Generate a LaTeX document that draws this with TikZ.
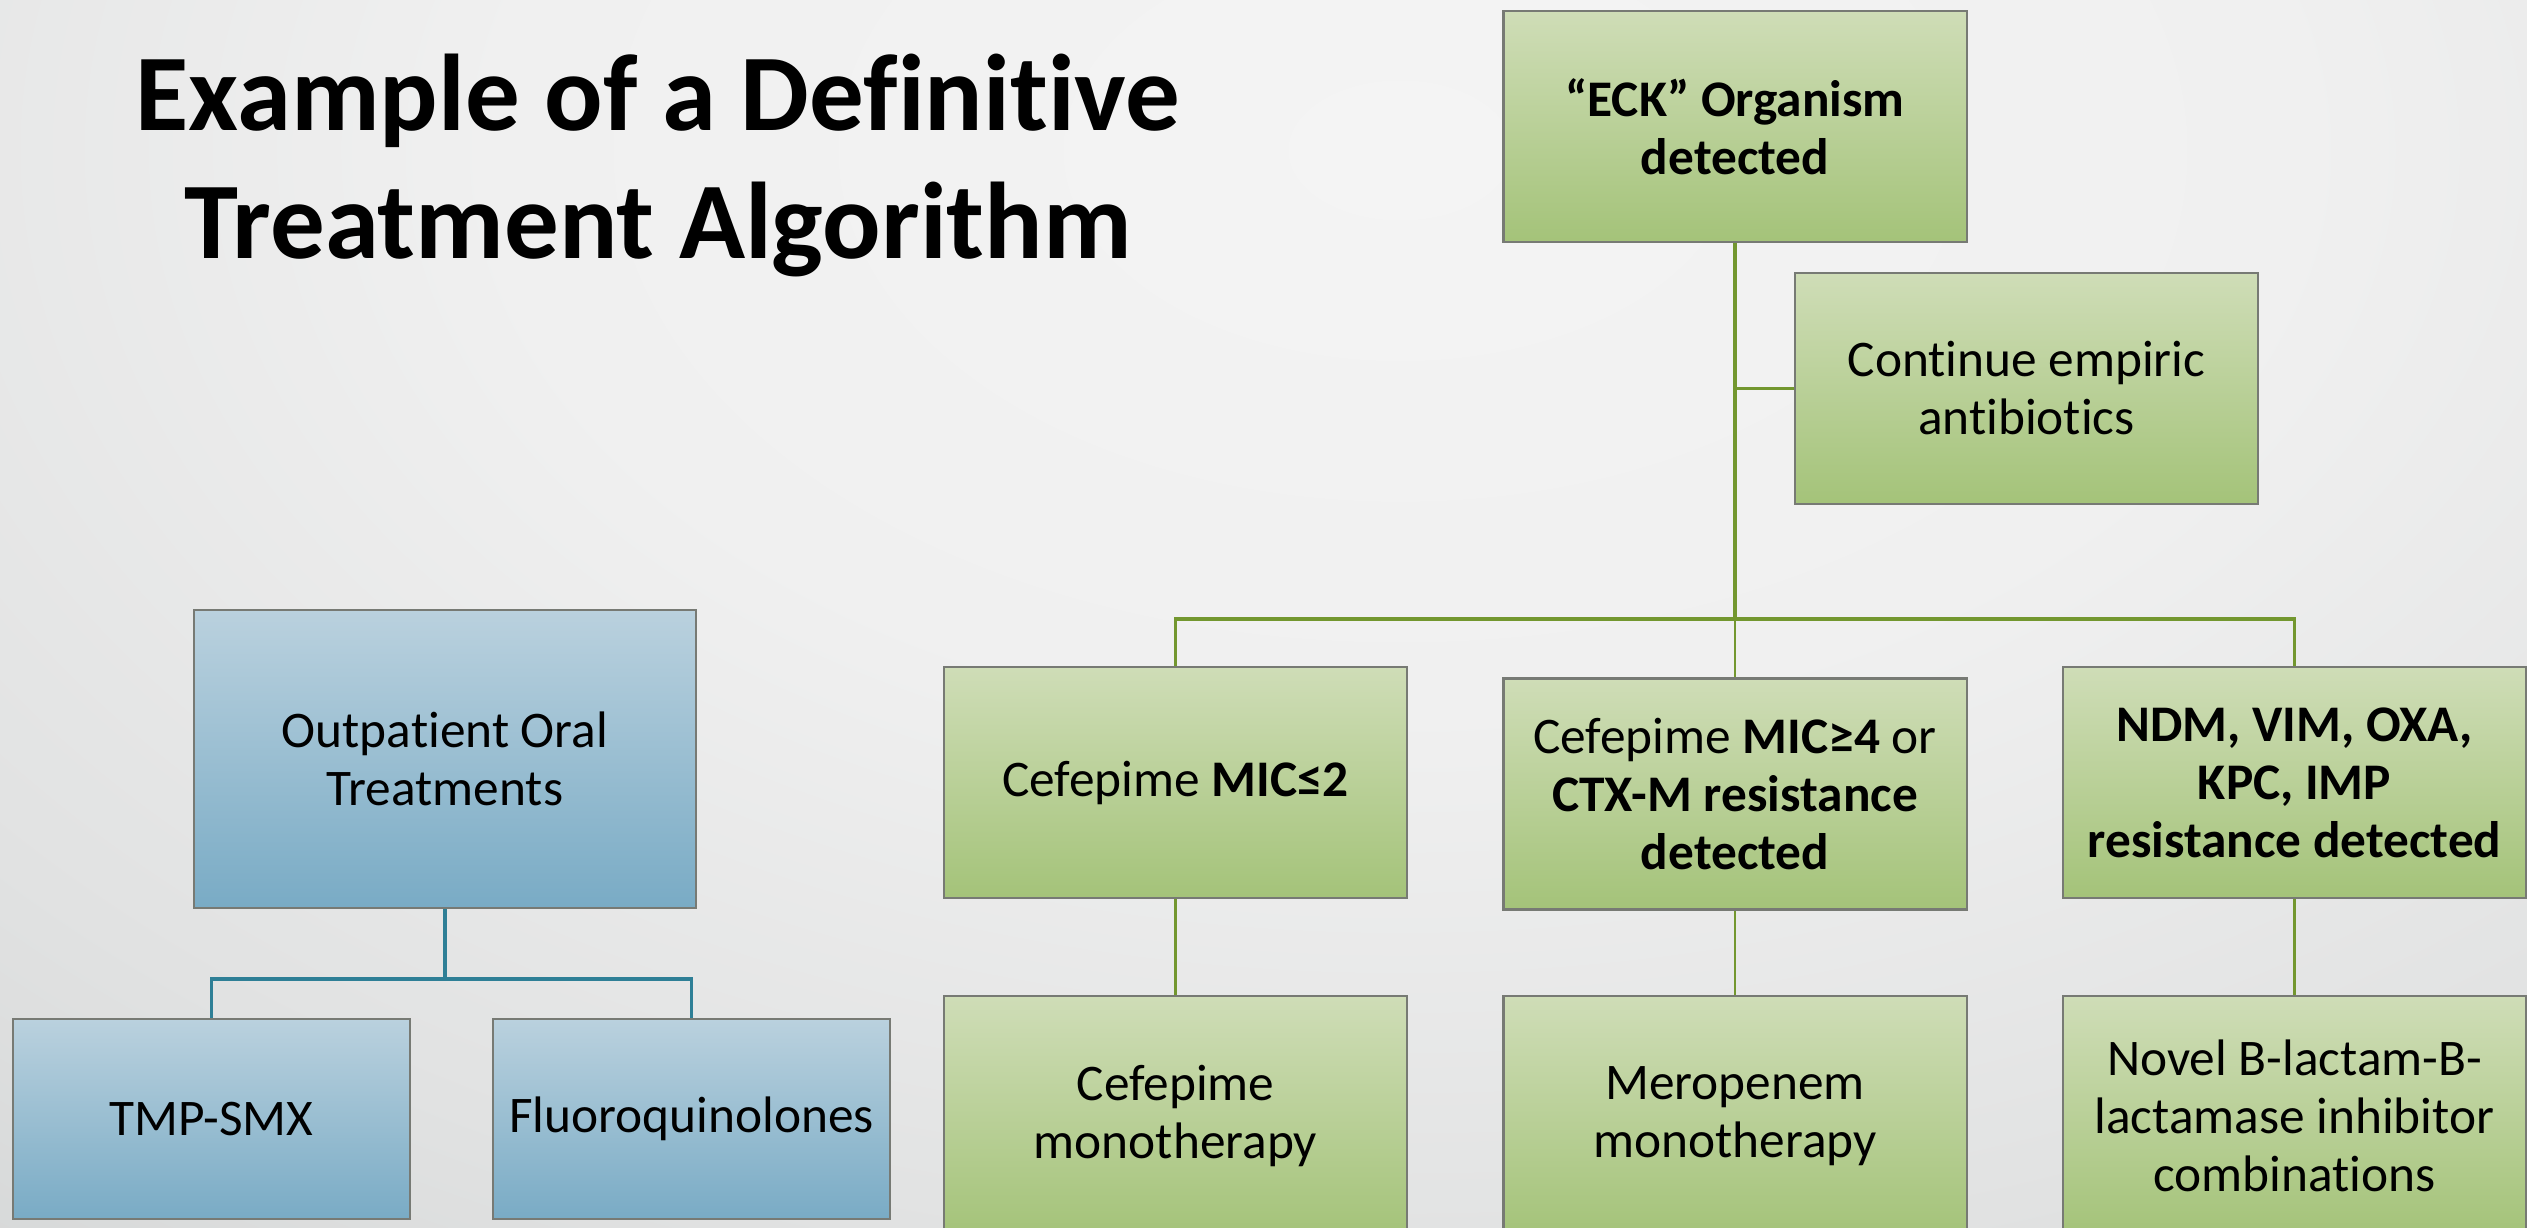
\documentclass[tikz,border=0pt]{standalone}
\usepackage{fontspec}
\setmainfont{Carlito}[Ligatures=NoCommon]
\usetikzlibrary{positioning,calc}
\definecolor{leaf}{HTML}{A4C379}
\definecolor{leaflight}{HTML}{CFDDB7}
\definecolor{stem}{HTML}{73972F}
\definecolor{water}{HTML}{79ABC5}
\definecolor{waterlight}{HTML}{BAD1DE}
\definecolor{pipe}{HTML}{2E7F96}
\definecolor{rim}{HTML}{777A74}
\definecolor{paper}{HTML}{F4F4F4}
\definecolor{paperlight}{HTML}{F0F0F0}
\definecolor{papermid}{HTML}{E1E2E2}
\definecolor{papersoft}{HTML}{D5D7D7}
\definecolor{papergray}{HTML}{C9CCCC}
\definecolor{paperdim}{HTML}{C2C5C5}
\definecolor{paperdark}{HTML}{BBBEBE}
\pgfdeclareradialshading{slidebg}{\pgfpoint{0bp}{0bp}}{color(0bp)=(paper); color(10bp)=(paperlight); color(20bp)=(papermid); color(26bp)=(papersoft); color(31bp)=(papergray); color(36bp)=(paperdim); color(45bp)=(paperdark); color(50bp)=(paperdark)}
\tikzset{greenbox/.style={draw=rim,line width=.65pt,top color=leaflight,bottom color=leaf,minimum width=4.63cm,minimum height=2.31cm,inner sep=2pt,align=center,font=\fontsize{14.6}{16.5}\selectfont},bluebox/.style={greenbox,top color=waterlight,bottom color=water},trunk/.style={draw=stem,line width=.9pt},twig/.style={draw=stem,line width=.6pt},pipeline/.style={draw=pipe,line width=.9pt},headline/.style={font=\fontsize{31}{36.4}\selectfont\bfseries,align=center,inner sep=0pt}}

\begin{document}
\begin{tikzpicture}[x=0.01cm,y=-0.01cm]
\useasboundingbox (0,0) rectangle (2527,1227);
\clip (0,0) rectangle (2527,1227);
\shade[shading=slidebg] (-846,-1254) rectangle (3646,1554);
\node[headline] (title) at (658,165) {Example of a Definitive\\Treatment Algorithm};
\node[greenbox] (eck) at (1735,126.5) {\textbf{“ECK” Organism}\\\textbf{detected}};
\node[greenbox] (cont) at (2026.5,388.5) {Continue empiric\\antibiotics};
\node[greenbox] (mic2) at (1175.5,782.5) {Cefepime \textbf{MIC≤2}};
\node[greenbox] (mic4) at (1735,794) {Cefepime \textbf{MIC≥4} or\\\textbf{CTX-M resistance}\\\textbf{detected}};
\node[greenbox] (ndm) at (2294.5,782.5) {\textbf{NDM, VIM, OXA,}\\\textbf{KPC, IMP}\\\textbf{resistance detected}};
\node[greenbox,minimum height=2.4cm] (cefmono) at (1175.5,1116) {Cefepime\\monotherapy};
\node[greenbox,minimum height=2.4cm] (mero) at (1735,1116) {Meropenem\\monotherapy};
\node[greenbox,minimum height=2.4cm] (novel) at (2294.5,1116) {Novel B-lactam-B-\\lactamase inhibitor\\combinations};
\node[bluebox,minimum width=5.02cm,minimum height=2.98cm] (oral) at (445,759) {Outpatient Oral\\Treatments};
\node[bluebox,minimum width=3.97cm,minimum height=2cm] (tmp) at (211.5,1119) {TMP-SMX};
\node[bluebox,minimum width=3.97cm,minimum height=2cm] (fluoro) at (691.5,1119) {Fluoroquinolones};
\coordinate (split) at (1735,619);
\coordinate (fork) at (445,979);
\draw[trunk] (eck.south) -- (split);
\draw[trunk] (cont.west) -- (cont.west -| eck.south);
\draw[trunk] (mic2.north) -- (split -| mic2.north) -- (split -| ndm.north) -- (ndm.north);
\draw[twig] (split) -- (mic4.north);
\draw[twig] (mic2.south) -- (cefmono.north);
\draw[twig] (mic4.south) -- (mero.north);
\draw[twig] (ndm.south) -- (novel.north);
\draw[pipeline] (oral.south) -- (fork);
\draw[pipeline] (tmp.north) -- (fork -| tmp.north) -- (fork -| fluoro.north) -- (fluoro.north);
\end{tikzpicture}
\end{document}
